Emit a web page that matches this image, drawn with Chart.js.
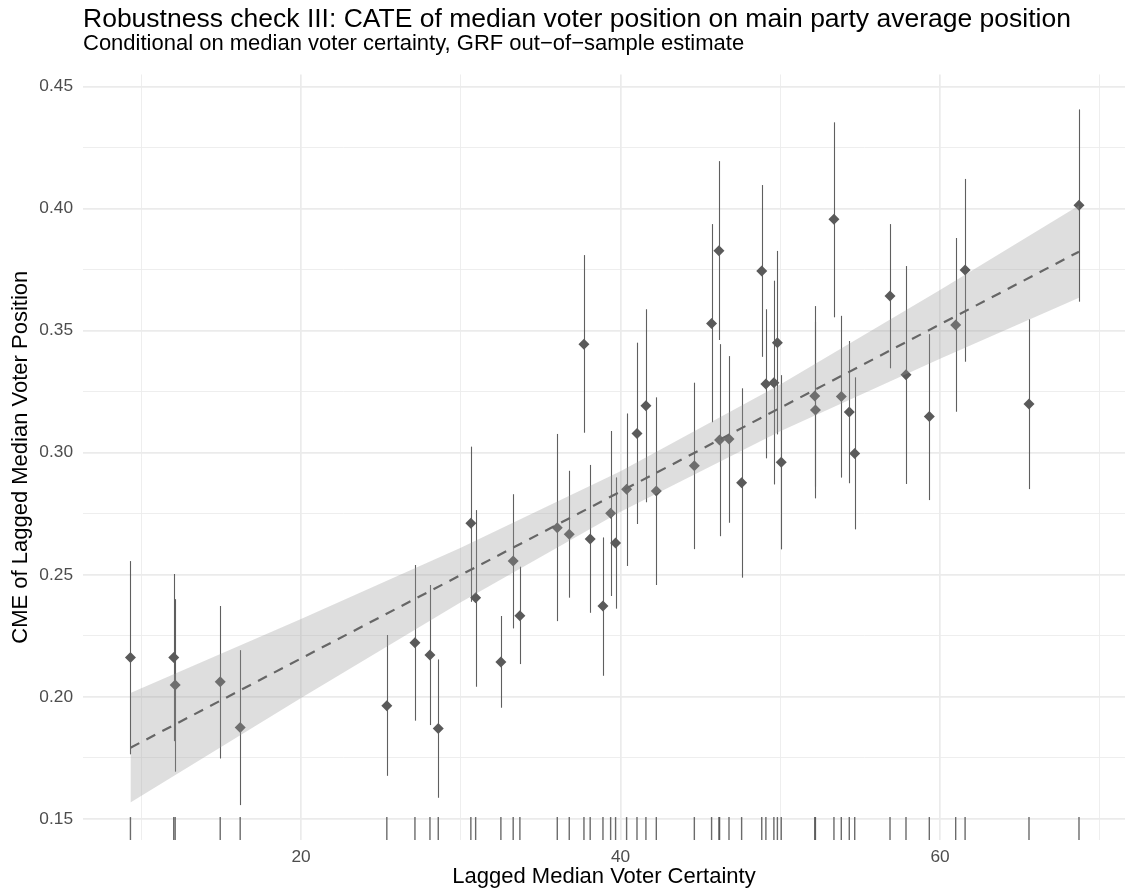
<!DOCTYPE html>
<html>
<head>
<meta charset="utf-8">
<title>Robustness check III</title>
<script src="https://cdn.jsdelivr.net/npm/chart.js@4.4.1/dist/chart.umd.min.js"></script>
<style>
  body { margin: 0; background: #fff; }
  #wrap { width: 1125px; height: 894px; }
</style>
</head>
<body>
<div id="wrap"><canvas id="cme-chart" width="1125" height="894"></canvas></div>
<script>
// --- Data ---
const certainty = [9.32, 12.03, 12.12, 14.94, 16.19, 25.37, 27.13, 28.07, 28.59, 30.63,
    30.93, 32.51, 33.28, 33.70, 36.04, 36.79, 37.71, 38.10, 38.90, 39.38,
    39.69, 40.38, 41.03, 41.59, 42.24, 44.62, 45.70, 46.16, 46.20, 46.79,
    47.58, 48.84, 49.10, 49.60, 49.82, 50.06, 52.16, 52.20, 53.36, 53.82,
    54.32, 54.66, 56.87, 57.87, 59.33, 60.98, 61.57, 65.57, 68.70];

const cme = [0.2161, 0.2161, 0.2048, 0.2061, 0.1874, 0.1963, 0.2221, 0.2171, 0.1870, 0.2711,
    0.2406, 0.2142, 0.2556, 0.2332, 0.2693, 0.2666, 0.3445, 0.2646, 0.2372, 0.2752,
    0.2630, 0.2850, 0.3079, 0.3193, 0.2843, 0.2947, 0.3530, 0.3828, 0.3052, 0.3056,
    0.2877, 0.3745, 0.3282, 0.3287, 0.3451, 0.2961, 0.3232, 0.3175, 0.3957, 0.3230,
    0.3167, 0.2997, 0.3642, 0.3320, 0.3148, 0.3523, 0.3749, 0.3200, 0.4014];

const ciHigh = [0.2556, 0.2503, 0.2400, 0.2372, 0.2191, 0.2253, 0.2540, 0.2458, 0.2153, 0.3025,
    0.2765, 0.2331, 0.2830, 0.2533, 0.3077, 0.2926, 0.3810, 0.2950, 0.2653, 0.3089,
    0.2899, 0.3161, 0.3451, 0.3588, 0.3227, 0.3287, 0.3937, 0.4195, 0.3445, 0.3396,
    0.3264, 0.4097, 0.3588, 0.3705, 0.3827, 0.3318, 0.3601, 0.3537, 0.4354, 0.3561,
    0.3458, 0.3309, 0.3937, 0.3765, 0.3486, 0.3880, 0.4122, 0.3547, 0.4407];

const ciLow = [0.1764, 0.1818, 0.1693, 0.1747, 0.1556, 0.1676, 0.1902, 0.1884, 0.1586, 0.2389,
    0.2041, 0.1955, 0.2280, 0.2134, 0.2310, 0.2406, 0.3082, 0.2344, 0.2086, 0.2413,
    0.2361, 0.2536, 0.2708, 0.2797, 0.2458, 0.2605, 0.3125, 0.3462, 0.2658, 0.2713,
    0.2488, 0.3393, 0.2977, 0.2870, 0.3075, 0.2604, 0.2861, 0.2813, 0.3555, 0.2898,
    0.2875, 0.2686, 0.3346, 0.2872, 0.2806, 0.3168, 0.3373, 0.2851, 0.3619];

// linear fit and its confidence band, sampled along x
const fitX = [9.32, 20, 30, 40, 50, 60, 68.70];
const fitY = [0.1791, 0.2157, 0.2499, 0.2841, 0.3184, 0.3526, 0.3824];
const bandLow = [0.1567, 0.1995, 0.2387, 0.2758, 0.3088, 0.3385, 0.3635];
const bandHigh = [0.2015, 0.2319, 0.2611, 0.2924, 0.3280, 0.3667, 0.4013];

// tick labels
const xTickLabels = [20, 40, 60];
const yTickLabels = ['0.15', '0.20', '0.25', '0.30', '0.35', '0.40', '0.45'];

const TITLE = 'Robustness check III: CATE of median voter position on main party average position';
const SUBTITLE = 'Conditional on median voter certainty, GRF out\u2212of\u2212sample estimate';
const X_TITLE = 'Lagged Median Voter Certainty';
const Y_TITLE = 'CME of Lagged Median Voter Position';

const FONT = '"Liberation Sans", Arial, sans-serif';

document.addEventListener('DOMContentLoaded', () => {

    // --- Plugins ---

    // Title + subtitle, left aligned with the panel (ggplot style)
    const headerPlugin = {
        id: 'header',
        afterDraw(chart) {
            const ctx = chart.ctx;
            const left = chart.chartArea.left;
            ctx.save();
            ctx.fillStyle = '#000';
            ctx.textAlign = 'left';
            ctx.textBaseline = 'alphabetic';
            ctx.font = '26.5px ' + FONT;
            ctx.fillText(TITLE, left, 27);
            ctx.font = '22px ' + FONT;
            ctx.fillText(SUBTITLE, left, 50);
            ctx.restore();
        }
    };

    // Error bars and the rug along the bottom
    const errorBarPlugin = {
        id: 'errorBars',
        beforeDatasetsDraw(chart) {
            const { ctx, chartArea, scales: { x, y } } = chart;
            ctx.save();

            ctx.strokeStyle = '#5f5f5f';
            ctx.lineWidth = 1.1;
            certainty.forEach((c, i) => {
                const px = Math.round(x.getPixelForValue(c)) + 0.5;
                ctx.beginPath();
                ctx.moveTo(px, y.getPixelForValue(ciLow[i]));
                ctx.lineTo(px, y.getPixelForValue(ciHigh[i]));
                ctx.stroke();
            });

            // rug: 3% of the panel height
            const rugLen = (chartArea.bottom - chartArea.top) * 0.03;
            ctx.strokeStyle = 'rgba(70,70,70,0.8)';
            ctx.lineWidth = 1.4;
            certainty.forEach(c => {
                const px = x.getPixelForValue(c);
                ctx.beginPath();
                ctx.moveTo(px, chartArea.bottom);
                ctx.lineTo(px, chartArea.bottom - rugLen);
                ctx.stroke();
            });

            ctx.restore();
        }
    };

    // --- Helpers ---
    const isMajorX = v => xTickLabels.includes(v);
    const yLabel = v => {
        const s = v.toFixed(2);
        return yTickLabels.includes(s) && Math.abs(v * 20 - Math.round(v * 20)) < 1e-6 ? s : '';
    };

    const points = certainty.map((c, i) => ({ x: c, y: cme[i] }));
    const fitLine = fitX.map((c, i) => ({ x: c, y: fitY[i] }));
    const lowLine = fitX.map((c, i) => ({ x: c, y: bandLow[i] }));
    const highLine = fitX.map((c, i) => ({ x: c, y: bandHigh[i] }));

    const ctx = document.getElementById('cme-chart').getContext('2d');

    new Chart(ctx, {
        type: 'scatter',
        data: {
            datasets: [
                {
                    label: 'band low',
                    type: 'line',
                    data: lowLine,
                    borderWidth: 0,
                    borderColor: 'rgba(0,0,0,0)',
                    pointRadius: 0,
                    fill: false,
                    order: 2
                },
                {
                    label: 'band high',
                    type: 'line',
                    data: highLine,
                    borderWidth: 0,
                    borderColor: 'rgba(0,0,0,0)',
                    backgroundColor: 'rgba(153,153,153,0.32)',
                    pointRadius: 0,
                    fill: '-1',
                    order: 2
                },
                {
                    label: 'fit',
                    type: 'line',
                    data: fitLine,
                    borderColor: '#666666',
                    borderWidth: 2.2,
                    borderDash: [10, 8],
                    pointRadius: 0,
                    fill: false,
                    order: 1
                },
                {
                    label: 'CME',
                    data: points,
                    pointStyle: 'rectRot',
                    pointRadius: 5.5,
                    backgroundColor: '#5a5a5a',
                    borderWidth: 0,
                    order: 3
                }
            ]
        },
        options: {
            responsive: false,
            animation: false,
            layout: {
                autoPadding: false,
                padding: { top: 74.5, left: 0, right: 0, bottom: 0 }
            },
            plugins: {
                legend: { display: false },
                tooltip: { enabled: false },
                title: { display: false }
            },
            scales: {
                x: {
                    type: 'linear',
                    min: 6.35,
                    max: 71.58,
                    border: { display: false },
                    grid: {
                        color: '#ebebeb',
                        lineWidth: c => isMajorX(c.tick.value) ? 1.7 : 0.85,
                        drawTicks: false
                    },
                    ticks: {
                        stepSize: 10,
                        includeBounds: false,
                        maxRotation: 0,
                        padding: 7,
                        color: '#4d4d4d',
                        font: { family: FONT, size: 17.3 },
                        callback: v => isMajorX(v) ? String(v) : ''
                    },
                    title: {
                        display: true,
                        text: X_TITLE,
                        color: '#000',
                        font: { family: FONT, size: 22 },
                        padding: { top: 0, bottom: 4 }
                    },
                    afterFit: s => {
                        s.height = 54;
                        s.paddingLeft = 0;
                        s.paddingRight = 0;
                    }
                },
                y: {
                    type: 'linear',
                    min: 0.1413,
                    max: 0.4550,
                    border: { display: false },
                    grid: {
                        color: '#ebebeb',
                        lineWidth: c => yLabel(c.tick.value) ? 1.7 : 0.85,
                        drawTicks: false
                    },
                    ticks: {
                        stepSize: 0.025,
                        includeBounds: false,
                        padding: 10,
                        color: '#4d4d4d',
                        font: { family: FONT, size: 17.3 },
                        callback: v => yLabel(v)
                    },
                    title: {
                        display: true,
                        text: Y_TITLE,
                        color: '#000',
                        font: { family: FONT, size: 22 },
                        padding: { top: 7.5, bottom: 0 }
                    },
                    afterFit: s => {
                        s.width = 83;
                        s.paddingTop = 0;
                        s.paddingBottom = 0;
                    }
                }
            }
        },
        plugins: [errorBarPlugin, headerPlugin]
    });
});
</script>
</body>
</html>
